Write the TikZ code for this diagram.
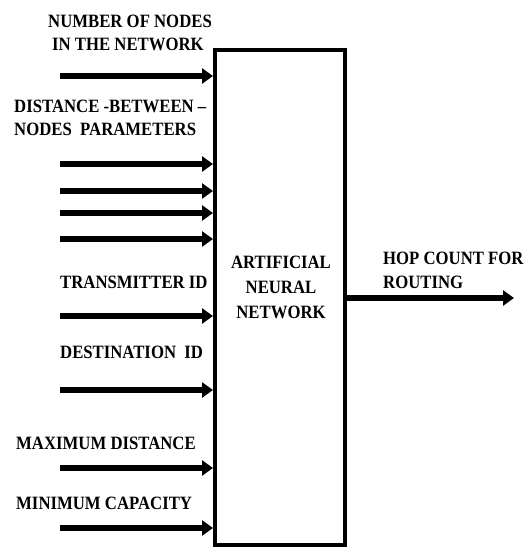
\documentclass[tikz,border=0pt]{standalone}
\usepackage{fontspec}
\setmainfont{Liberation Serif}[FakeStretch=0.89]
\usetikzlibrary{arrows.meta}
\begin{document}
\begin{tikzpicture}[x=1pt,y=-1pt,
  lbl/.style={font=\fontsize{18.8}{18.8}\selectfont\bfseries, inner sep=0pt, anchor=west},
  arr/.style={line width=5.5pt, -{Triangle[length=11pt,width=15pt]}},
  boxstyle/.style={draw, line width=4pt, minimum width=130pt, minimum height=495pt, inner sep=0pt}]
  \useasboundingbox (0,0) rectangle (532,549);

  % central block
  \node[boxstyle] (ann) at (280,297.5) {};
  \node[font=\fontsize{18.8}{25}\selectfont\bfseries, align=center, inner sep=0pt] (annlbl) at (281,287)
    {ARTIFICIAL\\NEURAL\\NETWORK};

  % input labels
  \node[lbl] (t1) at (48,21) {NUMBER OF NODES};
  \node[lbl] (t2) at (52,44) {IN THE NETWORK};
  \node[lbl] (t3) at (14,106) {DISTANCE -BETWEEN –};
  \node[lbl] (t4) at (14,129) {NODES\ \ PARAMETERS};
  \node[lbl] (t5) at (60,282) {TRANSMITTER ID};
  \node[lbl] (t6) at (60,352) {DESTINATION\ \ ID};
  \node[lbl] (t7) at (16,443) {MAXIMUM DISTANCE};
  \node[lbl] (t8) at (16,503) {MINIMUM CAPACITY};

  % output label
  \node[lbl] (o1) at (383,258) {HOP COUNT FOR};
  \node[lbl] (o2) at (383,282) {ROUTING};

  % input arrow tails
  \coordinate (i1) at (60,76);
  \coordinate (i2) at (60,164);
  \coordinate (i3) at (60,191);
  \coordinate (i4) at (60,213);
  \coordinate (i5) at (60,239);
  \coordinate (i6) at (60,316);
  \coordinate (i7) at (60,390);
  \coordinate (i8) at (60,468);
  \coordinate (i9) at (60,528);
  \foreach \k in {1,...,9}
    \draw[arr] (i\k) -- (ann.west |- i\k);

  % output arrow
  \coordinate (out) at (514,298);
  \draw[arr] (ann.east |- out) -- (out);
\end{tikzpicture}
\end{document}
